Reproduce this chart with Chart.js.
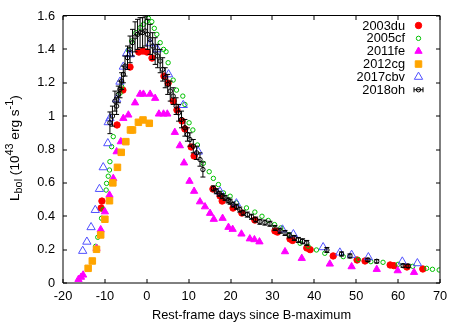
<!DOCTYPE html>
<html><head><meta charset="utf-8">
<script src="https://cdn.jsdelivr.net/npm/chart.js@4/dist/chart.umd.min.js"></script>
<style>html,body{margin:0;padding:0;background:#fff;}canvas{display:block;}</style>
</head><body>
<canvas id="c" width="463" height="324"></canvas>
<script>
// ---------- tick labels ----------
const xTickValues = [-20, -10, 0, 10, 20, 30, 40, 50, 60, 70];
const yTickValues = [0, 0.2, 0.4, 0.6, 0.8, 1, 1.2, 1.4, 1.6];
const xAxisTitle = 'Rest-frame days since B-maximum';
const seriesNames = ['2003du', '2005cf', '2011fe', '2012cg', '2017cbv', '2018oh'];

// ---------- SN 2003du ----------
const days2003du = [-10.9, -10.7, -7.1, -5.7, -4.0, -1.9, -0.9, 0.05, 1.25, 4.1, 5.1, 6.3, 7.2, 8.4, 9.1, 10.6, 11.3, 15.8, 17.5, 18.0, 20.6, 22.7, 25.8, 30.6, 31.2, 34.2, 34.8, 38.2, 39.0, 44.5, 50.2, 52.1, 58.1, 59.0, 62.1, 65.9];
const lbol2003du = [0.449, 0.491, 0.947, 1.156, 1.294, 1.384, 1.390, 1.384, 1.348, 1.240, 1.198, 1.090, 1.037, 0.971, 0.923, 0.815, 0.761, 0.563, 0.521, 0.491, 0.449, 0.419, 0.377, 0.312, 0.305, 0.264, 0.255, 0.210, 0.200, 0.162, 0.138, 0.132, 0.108, 0.104, 0.096, 0.084];

// ---------- SN 2005cf ----------
const days2005cf = [-12.2, -11.7, -10.8, -10.4, -9.7, -9.6, -9.2, -8.9, -8.8, -8.4, -8.0, -6.4, -6.0, -4.4, -3.6, -2.6, -1.6, -0.8, 0.0, 0.4, 1.2, 1.8, 2.4, 3.2, 4.0, 4.6, 5.1, 6.3, 7.1, 8.6, 9.1, 10.1, 11.0, 12.1, 13.5, 14.9, 15.9, 17.1, 18.3, 19.9, 21.4, 23.8, 25.8, 27.5, 29.0, 30.5, 32.0, 34.0, 36.6, 38.5, 40.5, 42.5, 46.9, 50.5, 53.5, 56.4, 60.0, 63.5, 66.8, 68.2, 69.8];
const lbol2005cf = [0.22, 0.274, 0.388, 0.44, 0.557, 0.597, 0.64, 0.677, 0.727, 0.817, 0.877, 1.137, 1.177, 1.396, 1.45, 1.50, 1.53, 1.55, 1.566, 1.586, 1.566, 1.526, 1.49, 1.44, 1.40, 1.386, 1.32, 1.216, 1.156, 1.12, 1.07, 0.96, 0.917, 0.827, 0.717, 0.667, 0.627, 0.59, 0.54, 0.52, 0.48, 0.45, 0.425, 0.40, 0.375, 0.35, 0.33, 0.29, 0.238, 0.22, 0.198, 0.178, 0.158, 0.14, 0.128, 0.124, 0.112, 0.10, 0.088, 0.082, 0.078];

// ---------- SN 2011fe ----------
const days2011fe = [-16.3, -15.7, -15.2, -12.0, -11.0, -10.0, -8.9, -8.0, -7.2, -6.2, -5.6, -4.4, -2.8, -1.6, -0.8, 0.8, 2.0, 2.9, 4.0, 4.9, 6.7, 7.9, 8.9, 10.2, 11.3, 12.7, 13.9, 15.1, 16.0, 18.1, 19.5, 20.5, 22.6, 24.6, 25.7, 26.9, 33.0, 37.0, 43.7, 48.9, 54.9, 59.9, 63.8];
const lbol2011fe = [0.022, 0.035, 0.048, 0.208, 0.32, 0.427, 0.527, 0.627, 0.787, 0.847, 0.987, 1.007, 1.08, 1.132, 1.132, 1.132, 1.107, 1.013, 1.013, 1.013, 0.903, 0.823, 0.72, 0.61, 0.55, 0.487, 0.457, 0.418, 0.382, 0.388, 0.334, 0.322, 0.294, 0.265, 0.26, 0.247, 0.188, 0.148, 0.114, 0.098, 0.082, 0.074, 0.064];

// ---------- SN 2012cg ----------
const days2012cg = [-14.0, -13.0, -12.0, -11.0, -10.0, -8.9, -8.1, -7.0, -6.1, -5.0, -3.9, -3.4, -2.0, -0.9, 0.6];
const lbol2012cg = [0.088, 0.132, 0.202, 0.288, 0.382, 0.493, 0.60, 0.693, 0.783, 0.847, 0.917, 0.917, 0.963, 0.977, 0.957];

// ---------- SN 2017cbv ----------
const days2017cbv = [-15.3, -14.3, -13.3, -12.3, -11.3, -10.4, -9.3, -9.2, -8.8, -7.2, -6.4, -5.6, -4.8, -4.0, 0.8, 2.5, 5.2, 8.7, 12.3, 17.5, 21.4, 32.4, 35.0, 42.1, 46.1, 48.9, 52.9, 61.0, 64.6];
const lbol2017cbv = [0.192, 0.247, 0.334, 0.437, 0.563, 0.693, 0.837, 0.963, 0.987, 1.10, 1.206, 1.296, 1.376, 1.37, 1.436, 1.40, 1.25, 1.066, 0.787, 0.547, 0.477, 0.32, 0.292, 0.214, 0.182, 0.168, 0.154, 0.128, 0.118];

// ---------- SN 2018oh (with errors) ----------
const days2018oh = [-8.8, -8.2, -7.6, -7.2, -6.8, -6.4, -6.0, -5.6, -5.2, -4.6, -4.0, -3.4, -2.8, -2.2, -1.6, -1.0, -0.4, 0.2, 0.8, 1.4, 2.0, 2.6, 3.2, 3.8, 4.4, 5.0, 5.6, 6.3, 7.0, 7.6, 8.3, 9.1, 9.7, 10.3, 11.1, 11.9, 12.7, 13.4, 15.9, 16.6, 17.3, 18.0, 18.7, 19.4, 19.9, 20.6, 21.4, 22.2, 23.0, 24.0, 25.0, 26.0, 27.0, 28.2, 29.4, 30.6, 31.8, 33.0, 34.0, 35.2, 36.2, 37.2, 38.2, 43.0, 46.5, 48.5, 52.8, 54.9, 61.2, 62.4];
const lbol2018oh = [0.96, 1.00, 1.09, 1.06, 1.13, 1.16, 1.21, 1.25, 1.30, 1.35, 1.40, 1.44, 1.475, 1.49, 1.50, 1.50, 1.51, 1.49, 1.46, 1.42, 1.39, 1.36, 1.33, 1.28, 1.23, 1.19, 1.15, 1.12, 1.06, 1.02, 0.98, 0.93, 0.89, 0.86, 0.82, 0.78, 0.74, 0.68, 0.567, 0.55, 0.535, 0.52, 0.51, 0.495, 0.487, 0.47, 0.457, 0.44, 0.421, 0.41, 0.397, 0.38, 0.367, 0.362, 0.355, 0.33, 0.313, 0.30, 0.285, 0.27, 0.258, 0.25, 0.24, 0.198, 0.174, 0.162, 0.138, 0.13, 0.104, 0.102];
const err2018oh = [0.065, 0.06, 0.06, 0.05, 0.05, 0.05, 0.05, 0.05, 0.06, 0.07, 0.08, 0.08, 0.09, 0.09, 0.09, 0.09, 0.09, 0.09, 0.09, 0.08, 0.08, 0.07, 0.07, 0.07, 0.06, 0.06, 0.06, 0.05, 0.05, 0.05, 0.05, 0.05, 0.04, 0.04, 0.04, 0.04, 0.04, 0.045, 0.015, 0.015, 0.015, 0.015, 0.015, 0.015, 0.015, 0.015, 0.015, 0.015, 0.015, 0.015, 0.015, 0.015, 0.015, 0.015, 0.015, 0.015, 0.015, 0.015, 0.015, 0.015, 0.015, 0.015, 0.015, 0.015, 0.012, 0.012, 0.01, 0.01, 0.01, 0.01];

// ---------- styling ----------
const FONT = "'Liberation Sans', Arial, Helvetica, sans-serif";
const FS = 12.8;
const styles = [
  {name: seriesNames[0], shape: 'circle', r: 3.2, fill: '#ff0000', stroke: '#ff0000', open: false},
  {name: seriesNames[1], shape: 'circle', r: 2.2, fill: 'rgba(0,0,0,0)', stroke: '#00c000', open: true},
  {name: seriesNames[2], shape: 'triangle', r: 4.2, fill: '#ff00ff', stroke: '#ff00ff', open: false},
  {name: seriesNames[3], shape: 'rect', r: 4.6, fill: '#ffa500', stroke: '#ffa500', open: false},
  {name: seriesNames[4], shape: 'triangle', r: 4.8, fill: 'rgba(0,0,0,0)', stroke: '#5050ff', open: true},
  {name: seriesNames[5], shape: 'circle', r: 2.2, fill: 'rgba(0,0,0,0)', stroke: '#000000', open: true}
];

function pts(xs, ys) { return xs.map((x, i) => ({x: x, y: ys[i]})); }
const allData = [
  pts(days2003du, lbol2003du), pts(days2005cf, lbol2005cf), pts(days2011fe, lbol2011fe),
  pts(days2012cg, lbol2012cg), pts(days2017cbv, lbol2017cbv), pts(days2018oh, lbol2018oh)
];

const datasets = styles.map((s, i) => ({
  label: s.name,
  data: allData[i],
  showLine: false,
  pointStyle: s.shape,
  pointRadius: s.r,
  pointBackgroundColor: s.fill,
  pointBorderColor: s.stroke,
  pointBorderWidth: 1,
  order: 6 - i
}));

// error bars for 2018oh
const errorBarPlugin = {
  id: 'errbars',
  beforeDatasetDraw(chart, args) {
    if (args.index !== 5) return;
    const xs = chart.scales.x, ys = chart.scales.y, ctx = chart.ctx, a = chart.chartArea;
    ctx.save();
    ctx.beginPath(); ctx.rect(a.left, a.top, a.right - a.left, a.bottom - a.top); ctx.clip();
    ctx.strokeStyle = '#000'; ctx.lineWidth = 1;
    ctx.beginPath();
    days2018oh.forEach((d, i) => {
      const px = xs.getPixelForValue(d);
      const y1 = ys.getPixelForValue(lbol2018oh[i] + err2018oh[i]);
      const y2 = ys.getPixelForValue(lbol2018oh[i] - err2018oh[i]);
      ctx.moveTo(px, y1); ctx.lineTo(px, y2);
      ctx.moveTo(px - 2.5, y1); ctx.lineTo(px + 2.5, y1);
      ctx.moveTo(px - 2.5, y2); ctx.lineTo(px + 2.5, y2);
    });
    ctx.stroke();
    ctx.restore();
  }
};

function drawShape(ctx, s, x, y) {
  ctx.beginPath();
  if (s.shape === 'circle') {
    ctx.arc(x, y, s.r, 0, Math.PI * 2);
  } else if (s.shape === 'triangle') {
    for (let k = 0; k < 3; k++) {
      const ang = k * 2 * Math.PI / 3;
      const px = x + Math.sin(ang) * s.r, py = y - Math.cos(ang) * s.r;
      if (k === 0) ctx.moveTo(px, py); else ctx.lineTo(px, py);
    }
    ctx.closePath();
  } else if (s.shape === 'rect') {
    const h = s.r * Math.SQRT1_2;
    ctx.rect(x - h, y - h, 2 * h, 2 * h);
  }
  if (!s.open) { ctx.fillStyle = s.fill; ctx.fill(); }
  ctx.strokeStyle = s.stroke; ctx.lineWidth = 1; ctx.stroke();
}

const framePlugin = {
  id: 'frame',
  afterDraw(chart) {
    const ctx = chart.ctx, a = chart.chartArea, xs = chart.scales.x, ys = chart.scales.y;
    ctx.save();
    // border
    ctx.strokeStyle = '#000'; ctx.lineWidth = 1;
    ctx.beginPath();
    ctx.moveTo(a.left, a.top - 0.5); ctx.lineTo(a.right, a.top - 0.5);
    ctx.stroke();
    ctx.beginPath();
    ctx.moveTo(a.left, a.top - 0.5); ctx.lineTo(a.left, a.bottom);
    ctx.lineTo(a.right, a.bottom); ctx.lineTo(a.right, a.top - 0.5);
    ctx.stroke();
    // inward ticks
    const TL = 4;
    ctx.beginPath();
    xTickValues.forEach(v => {
      const px = Math.round(xs.getPixelForValue(v));
      ctx.moveTo(px, a.bottom); ctx.lineTo(px, a.bottom - TL);
      ctx.moveTo(px, a.top); ctx.lineTo(px, a.top + TL);
    });
    yTickValues.forEach(v => {
      const py = Math.round(ys.getPixelForValue(v));
      ctx.moveTo(a.left, py); ctx.lineTo(a.left + TL, py);
      ctx.moveTo(a.right, py); ctx.lineTo(a.right - TL, py);
    });
    ctx.stroke();

    // legend (gnuplot style: text right-aligned, symbol on the right)
    const textRight = a.right - 35, symX = a.right - 21.5;
    let rowY = a.top + 9.5;
    ctx.font = FS + 'px ' + FONT;
    ctx.textAlign = 'right'; ctx.textBaseline = 'middle'; ctx.fillStyle = '#000';
    styles.forEach((s, i) => {
      ctx.fillStyle = '#000';
      ctx.fillText(s.name, textRight, rowY + 0.5);
      if (i === 5) {
        ctx.strokeStyle = '#000'; ctx.lineWidth = 1;
        ctx.beginPath();
        ctx.moveTo(symX - 4.5, rowY); ctx.lineTo(symX + 4.5, rowY);
        ctx.moveTo(symX - 4.5, rowY - 2.5); ctx.lineTo(symX - 4.5, rowY + 2.5);
        ctx.moveTo(symX + 4.5, rowY - 2.5); ctx.lineTo(symX + 4.5, rowY + 2.5);
        ctx.stroke();
      }
      drawShape(ctx, s, symX, rowY);
      rowY += 12.85;
    });

    // y axis title with sub/superscripts
    ctx.fillStyle = '#000';
    ctx.translate(18.5, 201);
    ctx.rotate(-Math.PI / 2);
    ctx.textAlign = 'left'; ctx.textBaseline = 'alphabetic';
    const YFS = 13.6;
    const big = YFS + 'px ' + FONT, small = (YFS * 0.8) + 'px ' + FONT;
    const parts = [
      ['L', big, 0], ['bol', small, 3], [' (10', big, 0], ['43', small, -5.5],
      [' erg s', big, 0], ['-1', small, -5.5], [')', big, 0]
    ];
    let cx = 0;
    parts.forEach(p => {
      ctx.font = p[1];
      ctx.fillText(p[0], cx, p[2]);
      cx += ctx.measureText(p[0]).width;
    });
    ctx.restore();
  }
};

new Chart(document.getElementById('c'), {
  type: 'scatter',
  data: { datasets: datasets },
  options: {
    responsive: false,
    animation: false,
    events: [],
    devicePixelRatio: 1,
    layout: { padding: { top: 16, right: 23, left: 0, bottom: 0 } },
    plugins: { legend: { display: false }, tooltip: { enabled: false } },
    scales: {
      x: {
        type: 'linear', min: -20, max: 70,
        grid: { display: false, drawTicks: false },
        border: { display: false },
        afterBuildTicks: s => { s.ticks = xTickValues.map(v => ({value: v})); },
        ticks: { color: '#000', font: { family: FONT, size: FS }, padding: 6, maxRotation: 0, autoSkip: false },
        title: { display: true, text: xAxisTitle, color: '#000', font: { family: FONT, size: FS }, padding: { top: 0, bottom: 1 } },
        afterFit: s => { s.height = 41; }
      },
      y: {
        type: 'linear', min: 0, max: 1.6,
        grid: { display: false, drawTicks: false },
        border: { display: false },
        afterBuildTicks: s => { s.ticks = yTickValues.map(v => ({value: v})); },
        ticks: { color: '#000', font: { family: FONT, size: FS }, padding: 8, autoSkip: false,
                 callback: v => String(parseFloat(Number(v).toFixed(1))) },
        afterFit: s => { s.width = 63; }
      }
    }
  },
  plugins: [errorBarPlugin, framePlugin]
});
</script>
</body></html>
